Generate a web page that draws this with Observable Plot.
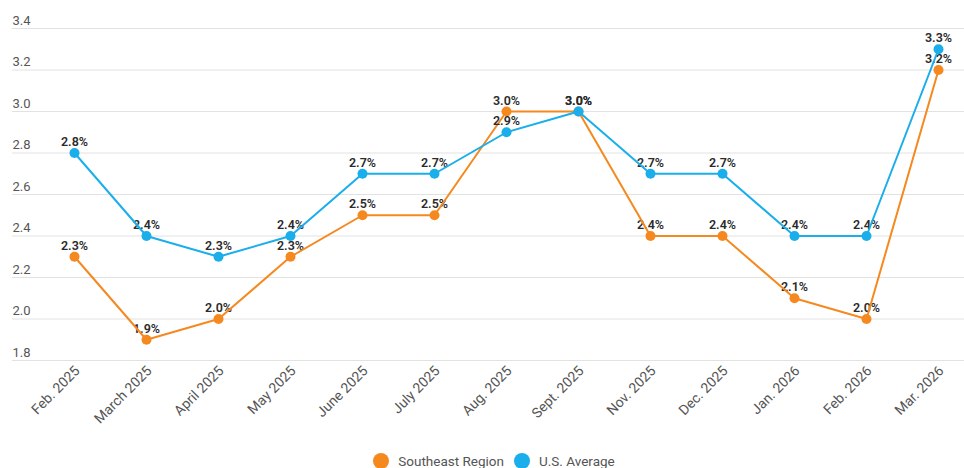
<!DOCTYPE html>
<html>
<head>
<meta charset="utf-8">
<script src="https://cdn.jsdelivr.net/npm/d3@7"></script>
<script src="https://cdn.jsdelivr.net/npm/@observablehq/plot@0.6"></script>
<style>
  html, body { margin: 0; padding: 0; background: #fff; font-family: Roboto, "Noto Sans", sans-serif; }
  #legend { display: flex; justify-content: center; align-items: center; height: 20px; margin-top: 3px; font-size: 13.5px; color: #555; padding-left: 24px; }
  .sw { display: inline-block; width: 16px; height: 16px; border-radius: 50%; margin-right: 9px; }
  .item { display: inline-flex; align-items: center; margin: 0 5px; }
</style>
</head>
<body>
<div id="chart"></div>
<div id="legend"></div>
<script>
const months = ["Feb. 2025","March 2025","April 2025","May 2025","June 2025","July 2025","Aug. 2025","Sept. 2025","Nov. 2025","Dec. 2025","Jan. 2026","Feb. 2026","Mar. 2026"];
const southeast = [2.3, 1.9, 2.0, 2.3, 2.5, 2.5, 3.0, 3.0, 2.4, 2.4, 2.1, 2.0, 3.2];
const usAverage = [2.8, 2.4, 2.3, 2.4, 2.7, 2.7, 2.9, 3.0, 2.7, 2.7, 2.4, 2.4, 3.3];
const yTicks = [1.8, 2.0, 2.2, 2.4, 2.6, 2.8, 3.0, 3.2, 3.4];
const seriesNames = ["Southeast Region", "U.S. Average"];
const seriesColors = ["#F5891F", "#1AAEEB"];

const seData = months.map((m, i) => ({month: m, value: southeast[i]}));
const usData = months.map((m, i) => ({month: m, value: usAverage[i]}));

function seriesMarks(data, color) {
  return [
    Plot.text(data, {x: "month", y: "value", text: d => d.value.toFixed(1) + "%", dy: -11, fill: "#2b2b2b", fontSize: 12.5, fontWeight: 600}),
    Plot.line(data, {x: "month", y: "value", stroke: color, strokeWidth: 2}),
    Plot.dot(data, {x: "month", y: "value", fill: color, r: 5})
  ];
}

const chart = Plot.plot({
  width: 964,
  height: 448,
  marginTop: 28,
  marginBottom: 88,
  marginLeft: 12,
  marginRight: 0,
  style: {fontFamily: "Roboto, sans-serif", background: "#fff"},
  x: {type: "point", domain: months, range: [72, 940], padding: 0, label: null},
  y: {domain: [1.8, 3.4], label: null},
  marks: [
    Plot.ruleY(yTicks, {stroke: "#e2e2e2", strokeWidth: 1}),
    Plot.axisY(yTicks, {anchor: "left", tickSize: 0, tickPadding: 0, textAnchor: "start", dx: 0, dy: -8, fontSize: 13, fill: "#555", tickFormat: d => d.toFixed(1), label: null}),
    Plot.axisX({anchor: "bottom", tickSize: 0, tickPadding: 8, tickRotate: -45, fontSize: 14, fill: "#555", dx: 3, label: null}),
    ...seriesMarks(seData, seriesColors[0]),
    ...seriesMarks(usData, seriesColors[1])
  ]
});
document.getElementById("chart").appendChild(chart);

const legend = document.getElementById("legend");
seriesNames.forEach((name, i) => {
  const item = document.createElement("span");
  item.className = "item";
  item.innerHTML = `<span class="sw" style="background:${seriesColors[i]}"></span>${name}`;
  legend.appendChild(item);
});
</script>
</body>
</html>
